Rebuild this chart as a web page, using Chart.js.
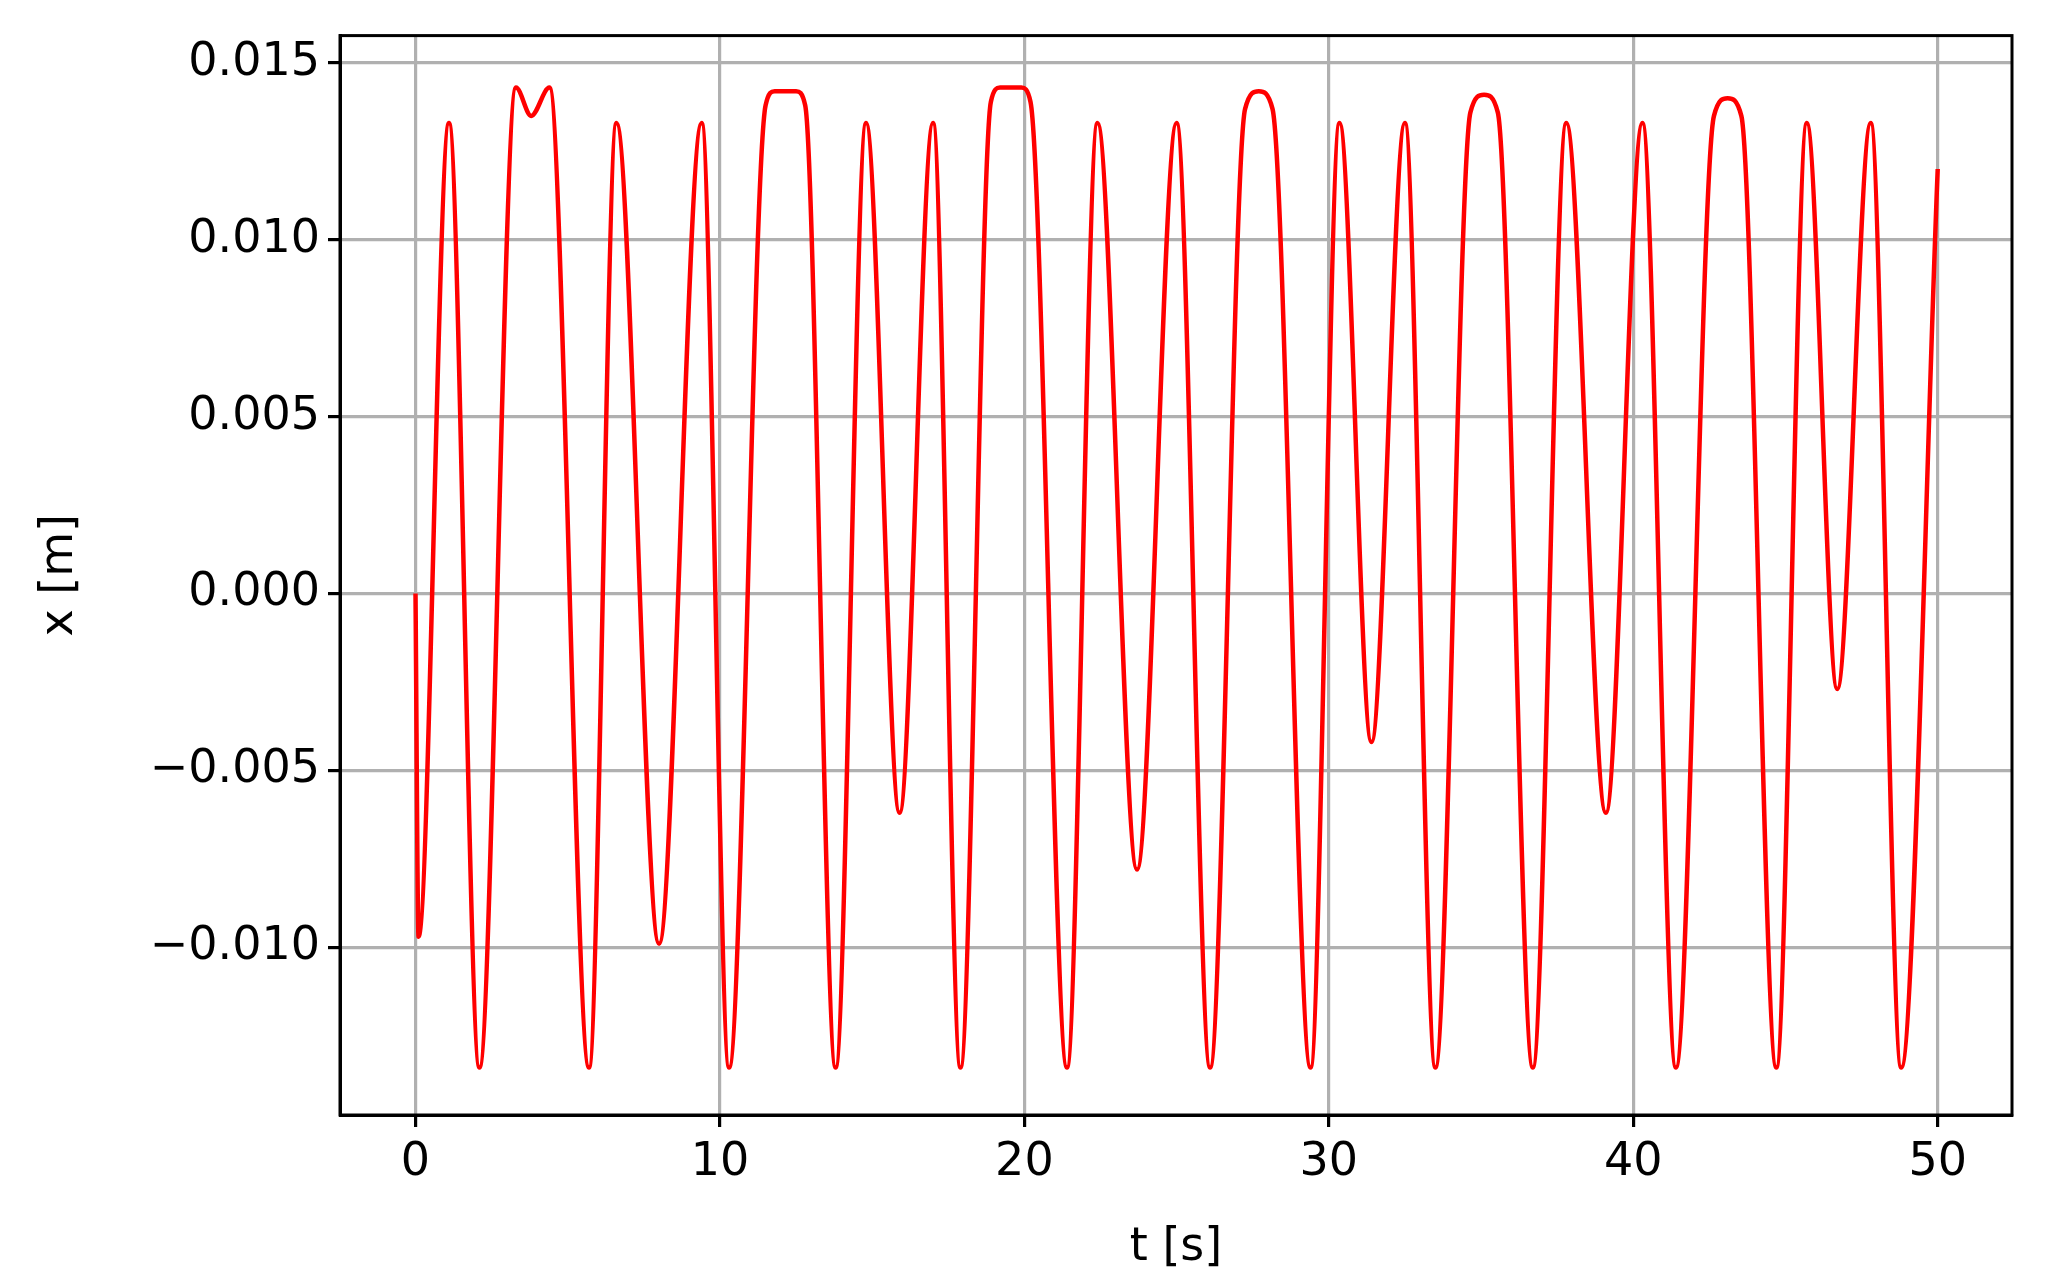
<!DOCTYPE html>
<html><head><meta charset="utf-8">
<script src="https://cdn.jsdelivr.net/npm/chart.js@4"></script>
<style>html,body{margin:0;padding:0;background:#fff}</style>
</head><body>
<canvas id="c" width="2045" height="1280" style="width:2045px;height:1280px"></canvas>
<script>
const tValues = [0,0.1,1.1,2.1,3.3,3.8,4.4,5.7,6.6,8.0,9.4,10.3,11.5,11.8,12.1,12.5,12.8,13.8,14.8,15.9,17.0,17.9,18.9,19.2,19.9,20.2,21.4,22.4,23.7,25.0,26.1,27.25,27.7,28.15,29.4,30.35,31.4,32.5,33.5,34.65,35.1,35.55,36.7,37.8,39.1,40.3,41.4,42.65,43.1,43.55,44.7,45.7,46.7,47.8,48.8,50];
const xValues = [0,-0.0097,0.0133,-0.0134,0.0143,0.0135,0.0143,-0.0134,0.0133,-0.0099,0.0133,-0.0134,0.0138,0.0142,0.0142,0.0142,0.0138,-0.0134,0.0133,-0.0062,0.0133,-0.0134,0.0139,0.0143,0.0143,0.0139,-0.0134,0.0133,-0.0078,0.0133,-0.0134,0.0137,0.0142,0.0137,-0.0134,0.0133,-0.0042,0.0133,-0.0134,0.0136,0.0141,0.0136,-0.0134,0.0133,-0.0062,0.0133,-0.0134,0.0135,0.0140,0.0135,-0.0134,0.0133,-0.0027,0.0133,-0.0134,0.0120];
const xTicks = [0,10,20,30,40,50];
const yTicks = [-0.010,-0.005,0,0.005,0.010,0.015];
const pts = tValues.map((t,i)=>({x:t,y:xValues[i]}));
const font = {family:'DejaVu Sans', size:46};
new Chart(document.getElementById('c'),{
  type:'line',
  data:{datasets:[{data:pts,borderColor:'#ff0000',borderWidth:4.5,pointRadius:0,cubicInterpolationMode:'monotone',fill:false}]},
  options:{
    responsive:false,animation:false,devicePixelRatio:1,
    layout:{padding:{top:22,right:33,left:28,bottom:0}},
    plugins:{legend:{display:false},tooltip:{enabled:false}},
    scales:{
      x:{type:'linear',min:-2.48,max:52.44,
        afterBuildTicks:s=>{s.ticks=xTicks.map(v=>({value:v}));},
        afterFit:s=>{s.height=165;},
        ticks:{font,color:'#000',padding:8,maxRotation:0,callback:v=>String(v)},
        grid:{color:'#b0b0b0',lineWidth:3.2,tickColor:'#000',tickLength:12},
        border:{color:'#000',width:3},
        title:{display:true,text:'t [s]',font,color:'#000',padding:{top:0}}},
      y:{type:'linear',min:-0.01474,max:0.01577,
        afterBuildTicks:s=>{s.ticks=yTicks.map(v=>({value:v}));},
        afterFit:s=>{s.width=312;},
        ticks:{font,color:'#000',padding:8,callback:v=>{const a=Math.abs(v)<1e-9?0:v;return (a<0?'\u2212':'')+Math.abs(a).toFixed(3);}},
        grid:{color:'#b0b0b0',lineWidth:3.2,tickColor:'#000',tickLength:12},
        border:{color:'#000',width:3},
        title:{display:true,text:'x [m]',font,color:'#000',padding:{bottom:20}}}
    }
  },
  plugins:[{id:'frame',afterDraw(c){const a=c.chartArea,ctx=c.ctx;ctx.save();ctx.strokeStyle='#000';ctx.lineWidth=3;ctx.strokeRect(a.left,a.top,a.right-a.left,a.bottom-a.top);ctx.restore();}}]
});
</script>
</body></html>
